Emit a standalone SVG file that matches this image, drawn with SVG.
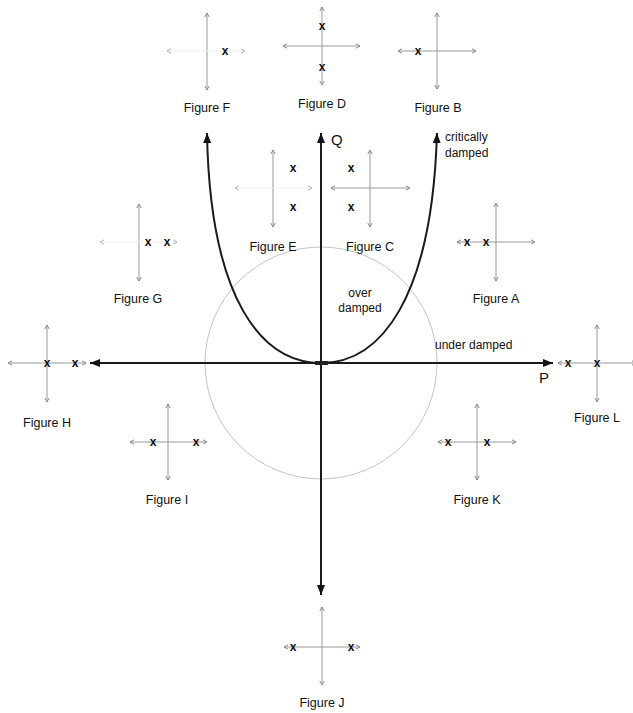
<svg xmlns="http://www.w3.org/2000/svg" width="633" height="713" viewBox="0 0 633 713">
<style>
.ax{stroke:#999;stroke-width:1;fill:none;marker-start:url(#sa);marker-end:url(#sa)}
.fx{stroke:#efefef;stroke-width:1;fill:none;marker-start:url(#fa);marker-end:url(#fa)}
.x{font-family:"Liberation Sans",Arial,sans-serif;font-size:12px;font-weight:bold;fill:#111;text-anchor:middle}
.lb{font-family:"Liberation Sans",Arial,sans-serif;font-size:12.5px;fill:#111;text-anchor:middle}
.tx{font-family:"Liberation Sans",Arial,sans-serif;font-size:12px;fill:#111}
.main{stroke:#1a1a1a;stroke-width:2;fill:none}
</style>
<defs>
<marker id="sa" viewBox="0 0 6 6" refX="5.5" refY="3" markerWidth="6" markerHeight="6" orient="auto-start-reverse" markerUnits="userSpaceOnUse"><path d="M1.5,0.8 L5.5,3 L1.5,5.2" fill="none" stroke="#888" stroke-width="1"/></marker>
<marker id="fa" viewBox="0 0 6 6" refX="5.5" refY="3" markerWidth="6" markerHeight="6" orient="auto-start-reverse" markerUnits="userSpaceOnUse"><path d="M1.5,0.8 L5.5,3 L1.5,5.2" fill="none" stroke="#b0b0b0" stroke-width="1"/></marker>
<marker id="ma" viewBox="0 0 10 8" refX="10" refY="4" markerWidth="10" markerHeight="8" orient="auto-start-reverse" markerUnits="userSpaceOnUse"><path d="M0,0 L10,4 L0,8 Z" fill="#111"/></marker>
</defs>
<rect width="633" height="713" fill="#fff"/>
<g id="connectors">
<circle cx="321" cy="363" r="116" fill="none" stroke="#c4c4c4" stroke-width="1"/>
<line class="main" x1="90" y1="363" x2="553" y2="363" marker-start="url(#ma)" marker-end="url(#ma)"/>
<line class="main" x1="321" y1="133" x2="321" y2="595" marker-start="url(#ma)" marker-end="url(#ma)"/>
<path class="main" d="M207,133 C210,300 262,363 321,363 C380,363 432,300 437,133" marker-start="url(#ma)" marker-end="url(#ma)"/>
<rect x="315" y="361" width="13" height="4" fill="#222"/>
</g>
<g id="axis-labels">
<text class="tx" x="331" y="145" style="font-size:15px">Q</text>
<text class="tx" x="539" y="383" style="font-size:15px">P</text>
<text class="tx" x="445" y="141">critically</text>
<text class="tx" x="445" y="157">damped</text>
<text class="tx" x="360" y="297" style="text-anchor:middle">over</text>
<text class="tx" x="360" y="312" style="text-anchor:middle">damped</text>
<text class="tx" x="435" y="349">under damped</text>
</g>
<g id="figF">
<line class="ax" x1="207" y1="13" x2="207" y2="90"/>
<line class="fx" x1="167" y1="51" x2="245" y2="51"/>
<text class="x" x="225" y="55">x</text>
<text class="lb" x="207" y="112">Figure F</text>
</g>
<g id="figD">
<line class="ax" x1="322" y1="7" x2="322" y2="85"/>
<line class="ax" x1="283" y1="46" x2="360" y2="46"/>
<text class="x" x="322" y="30">x</text>
<text class="x" x="322" y="71">x</text>
<text class="lb" x="322" y="108">Figure D</text>
</g>
<g id="figB">
<line class="ax" x1="437" y1="13" x2="437" y2="89"/>
<line class="ax" x1="398" y1="51" x2="476" y2="51"/>
<text class="x" x="418" y="55">x</text>
<text class="lb" x="438" y="112">Figure B</text>
</g>
<g id="figE">
<line class="ax" x1="273" y1="150" x2="273" y2="227"/>
<line class="fx" x1="235" y1="188" x2="312" y2="188"/>
<text class="x" x="293" y="172">x</text>
<text class="x" x="293" y="211">x</text>
<text class="lb" x="273" y="251">Figure E</text>
</g>
<g id="figC">
<line class="ax" x1="370" y1="150" x2="370" y2="227"/>
<line class="ax" x1="331" y1="188" x2="410" y2="188"/>
<text class="x" x="351" y="172">x</text>
<text class="x" x="351" y="211">x</text>
<text class="lb" x="370" y="251">Figure C</text>
</g>
<g id="figG">
<line class="ax" x1="139" y1="204" x2="139" y2="281"/>
<line class="fx" x1="100" y1="242" x2="177" y2="242"/>
<text class="x" x="148" y="246">x</text>
<text class="x" x="167" y="246">x</text>
<text class="lb" x="138" y="303">Figure G</text>
</g>
<g id="figA">
<line class="ax" x1="496" y1="203" x2="496" y2="281"/>
<line class="ax" x1="457" y1="242" x2="535" y2="242"/>
<text class="x" x="467" y="246">x</text>
<text class="x" x="486" y="246">x</text>
<text class="lb" x="496" y="303">Figure A</text>
</g>
<g id="figH">
<line class="ax" x1="47" y1="325" x2="47" y2="402"/>
<line class="ax" x1="8" y1="363" x2="86" y2="363"/>
<text class="x" x="47" y="367">x</text>
<text class="x" x="75" y="367">x</text>
<text class="lb" x="47" y="427">Figure H</text>
</g>
<g id="figL">
<line class="ax" x1="597" y1="325" x2="597" y2="402"/>
<line class="ax" x1="558" y1="363" x2="636" y2="363"/>
<text class="x" x="568" y="367">x</text>
<text class="x" x="597" y="367">x</text>
<text class="lb" x="597" y="422">Figure L</text>
</g>
<g id="figI">
<line class="ax" x1="168" y1="404" x2="168" y2="480"/>
<line class="ax" x1="130" y1="442" x2="207" y2="442"/>
<text class="x" x="153" y="446">x</text>
<text class="x" x="196" y="446">x</text>
<text class="lb" x="167" y="504">Figure I</text>
</g>
<g id="figK">
<line class="ax" x1="477" y1="404" x2="477" y2="480"/>
<line class="ax" x1="438" y1="442" x2="516" y2="442"/>
<text class="x" x="448" y="446">x</text>
<text class="x" x="487" y="446">x</text>
<text class="lb" x="477" y="504">Figure K</text>
</g>
<g id="figJ">
<line class="ax" x1="322" y1="607" x2="322" y2="685"/>
<line class="ax" x1="284" y1="647" x2="360" y2="647"/>
<text class="x" x="293" y="651">x</text>
<text class="x" x="351" y="651">x</text>
<text class="lb" x="322" y="707">Figure J</text>
</g>
</svg>
